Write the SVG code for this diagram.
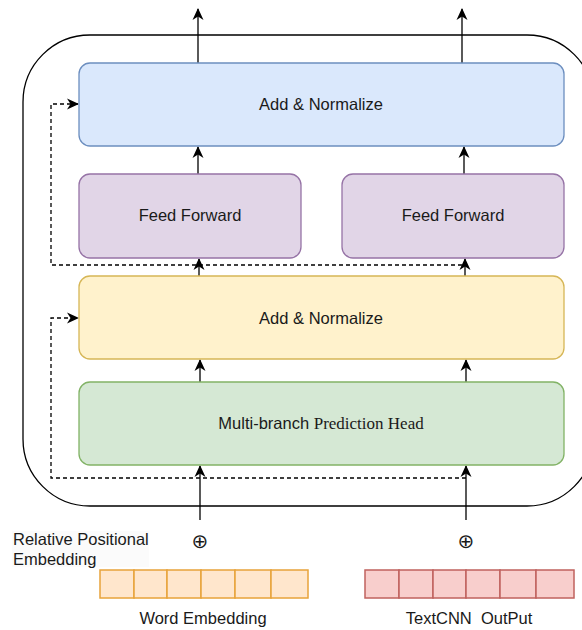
<svg xmlns="http://www.w3.org/2000/svg" width="582" height="630" viewBox="0 0 582 630">
  <style>
    .lbl { font-family: "Liberation Sans", Arial, sans-serif; font-size: 16.5px; fill: #1a1a1a; }
    .serif { font-family: "Liberation Serif", "Times New Roman", serif; }
    .plus { font-family: "DejaVu Sans", sans-serif; font-size: 20px; fill: #1a1a1a; }
    .edge { fill: none; stroke: #000; stroke-width: 1.3; }
    .dash { fill: none; stroke: #000; stroke-width: 1.3; stroke-dasharray: 4 3; }
    .blue { fill: #dae8fc; stroke: #6c8ebf; stroke-width: 1.3; }
    .purple { fill: #e1d5e7; stroke: #9673a6; stroke-width: 1.3; }
    .yellow { fill: #fff2cc; stroke: #d6b656; stroke-width: 1.3; }
    .green { fill: #d5e8d4; stroke: #82b366; stroke-width: 1.3; }
    .word { fill: #ffe6cc; stroke: #e8a33a; stroke-width: 1.5; }
    .cnn { fill: #f8cecc; stroke: #c0625e; stroke-width: 1.5; }
  </style>
  <defs>
    <marker id="arrow" viewBox="0 0 12 12" refX="11" refY="6" markerWidth="12" markerHeight="12" markerUnits="userSpaceOnUse" orient="auto">
      <path d="M0,0.5 L12,6 L0,11.5 L3.5,6 Z" fill="#000"/>
    </marker>
  </defs>

  <rect width="582" height="630" fill="#fff"/>

  <!-- encoder container -->
  <rect id="container" x="23" y="35" width="571" height="471" rx="67" ry="67" fill="none" stroke="#000" stroke-width="1.3"/>

  <!-- connectors -->
  <g id="connectors">
    <path class="edge" d="M198 63 V9" marker-end="url(#arrow)"/>
    <path class="edge" d="M462 63 V9" marker-end="url(#arrow)"/>
    <path class="edge" d="M198 174 V147" marker-end="url(#arrow)"/>
    <path class="edge" d="M464 174 V147" marker-end="url(#arrow)"/>
    <path class="edge" d="M199 276 V259" marker-end="url(#arrow)"/>
    <path class="edge" d="M465 276 V259" marker-end="url(#arrow)"/>
    <path class="edge" d="M200 382 V360" marker-end="url(#arrow)"/>
    <path class="edge" d="M466 382 V360" marker-end="url(#arrow)"/>
    <path class="edge" d="M200 520 V466" marker-end="url(#arrow)"/>
    <path class="edge" d="M466 520 V466" marker-end="url(#arrow)"/>
    <path class="dash" d="M462 265 H51 V104 H78" marker-end="url(#arrow)"/>
    <path class="dash" d="M466 478 H51 V318 H78" marker-end="url(#arrow)"/>
  </g>

  <g id="add-norm-top">
    <rect class="blue" x="79" y="63" width="485" height="83" rx="11"/>
    <text class="lbl" x="321" y="110" text-anchor="middle">Add &amp; Normalize</text>
  </g>

  <g id="feed-forward-left">
    <rect class="purple" x="79" y="174" width="222" height="84" rx="11"/>
    <text class="lbl" x="190" y="221" text-anchor="middle">Feed Forward</text>
  </g>

  <g id="feed-forward-right">
    <rect class="purple" x="342" y="174" width="222" height="84" rx="11"/>
    <text class="lbl" x="453" y="221" text-anchor="middle">Feed Forward</text>
  </g>

  <g id="add-norm-bottom">
    <rect class="yellow" x="79" y="276" width="485" height="83" rx="11"/>
    <text class="lbl" x="321" y="324" text-anchor="middle">Add &amp; Normalize</text>
  </g>

  <g id="prediction-head">
    <rect class="green" x="79" y="382" width="485" height="83" rx="11"/>
    <text class="lbl" x="321" y="429" text-anchor="middle">Multi-branch <tspan class="serif" font-size="17">Prediction Head</tspan></text>
  </g>

  <g id="positional-label">
    <rect x="12" y="531" width="137" height="36" fill="#fbfbfb"/>
    <text class="lbl" x="13" y="545">Relative Positional</text>
    <text class="lbl" x="13" y="565">Embedding</text>
  </g>

  <g id="plus-left">
    <text class="plus" x="200" y="548" text-anchor="middle">⊕</text>
  </g>
  <g id="plus-right">
    <text class="plus" x="466" y="548" text-anchor="middle">⊕</text>
  </g>

  <g id="word-embedding">
    <rect class="word" x="100" y="570" width="34" height="28"/>
    <rect class="word" x="134" y="570" width="33" height="28"/>
    <rect class="word" x="167" y="570" width="34" height="28"/>
    <rect class="word" x="201" y="570" width="34" height="28"/>
    <rect class="word" x="235" y="570" width="36" height="28"/>
    <rect class="word" x="271" y="570" width="37" height="28"/>
    <text class="lbl" x="203" y="624" text-anchor="middle">Word Embedding</text>
  </g>

  <g id="textcnn-output">
    <rect class="cnn" x="365" y="570" width="34" height="28"/>
    <rect class="cnn" x="399" y="570" width="34" height="28"/>
    <rect class="cnn" x="433" y="570" width="33" height="28"/>
    <rect class="cnn" x="466" y="570" width="34" height="28"/>
    <rect class="cnn" x="500" y="570" width="36" height="28"/>
    <rect class="cnn" x="536" y="570" width="38" height="28"/>
    <text class="lbl" x="469" y="624" text-anchor="middle" xml:space="preserve">TextCNN  OutPut</text>
  </g>
</svg>
